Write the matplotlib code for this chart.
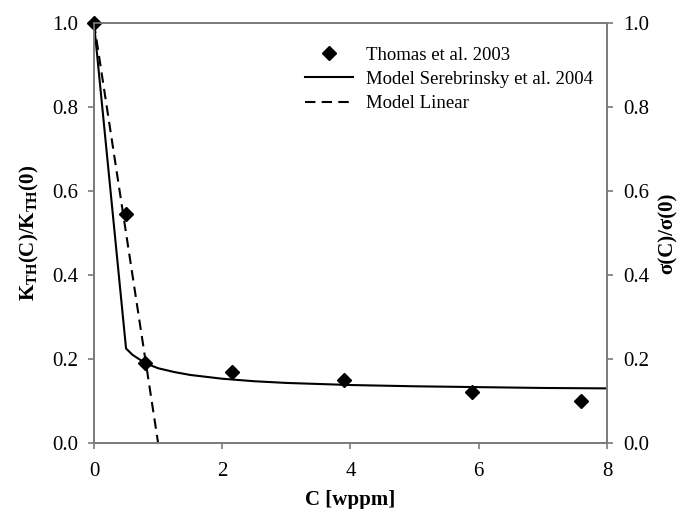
import matplotlib
matplotlib.use("Agg")
import matplotlib.pyplot as plt

plt.rcParams['font.family'] = ['Liberation Serif', 'DejaVu Serif']
plt.rcParams['mathtext.fontset'] = 'custom'
plt.rcParams['mathtext.rm'] = 'Liberation Serif'
plt.rcParams['mathtext.bf'] = 'Liberation Serif:bold'

# Data
exp_c = [0.0, 0.5, 0.8, 2.15, 3.9, 5.9, 7.6]
exp_k = [1.0, 0.545, 0.19, 0.17, 0.15, 0.122, 0.10]

model_c = [0.0, 0.5, 0.6, 0.8, 1.0, 1.25, 1.5, 2.0, 2.5, 3.0, 4.0, 5.0, 6.0, 7.0, 8.0]
model_k = [1.0, 0.225, 0.21, 0.19, 0.178, 0.169, 0.162, 0.153, 0.147, 0.143, 0.138, 0.135, 0.133, 0.131, 0.130]

lin_c = [0.0, 1.0]
lin_k = [1.0, 0.0]

xticks = [0, 2, 4, 6, 8]
yticks = [0.0, 0.2, 0.4, 0.6, 0.8, 1.0]

fig = plt.figure(figsize=(6.83, 5.09), dpi=100)
ax = fig.add_axes([0.1376, 0.1297, 0.7511, 0.8251])
frame_col = '#7a7a7a'

ax.plot(exp_c, exp_k, linestyle='none', marker='D', color='black', markersize=6.8,
        label='Thomas et al. 2003', clip_on=False, zorder=5)
ax.plot(model_c, model_k, '-', color='black', lw=1.5, label='Model Serebrinsky et al. 2004')
ax.plot(lin_c, lin_k, '--', color='black', lw=1.5, dashes=(5, 3), label='Model Linear')

ax.set_xlim(0, 8)
ax.set_ylim(0, 1)
ax.set_xticks(xticks)
ax.set_yticks(yticks)
ax.set_xticklabels([str(v) for v in xticks])
ax.set_yticklabels([f"{v:.1f}" for v in yticks])
for s in ax.spines.values():
    s.set_color(frame_col)
    s.set_linewidth(1.2)
ax.tick_params(axis='both', direction='out', length=4.5, color=frame_col, labelsize=15, width=1.2)
ax.tick_params(axis='x', pad=9)
ax.tick_params(axis='y', pad=7)

ax.set_xlabel('C [wppm]', fontsize=15, fontweight='bold', labelpad=7)
ax.set_ylabel(r'$\mathbf{K_{TH}(C)/K_{TH}(0)}$', fontsize=15, labelpad=8)

ax2 = ax.twinx()
ax2.set_ylim(0, 1)
ax2.set_yticks(yticks)
ax2.set_yticklabels([f"{v:.1f}" for v in yticks])
for s in ax2.spines.values():
    s.set_color(frame_col)
    s.set_linewidth(1.2)
ax2.tick_params(axis='y', direction='out', length=4.5, color=frame_col, labelsize=15, width=1.2, pad=7)
ax2.set_ylabel('σ(C)/σ(0)', fontsize=15, fontweight='bold', labelpad=6)

leg = ax.legend(loc='upper left', bbox_to_anchor=(0.397, 0.962), frameon=False, fontsize=13.5,
                handlelength=2.55, handletextpad=0.7, labelspacing=0.38, borderaxespad=0)

fig.savefig('out.png', dpi=100)
